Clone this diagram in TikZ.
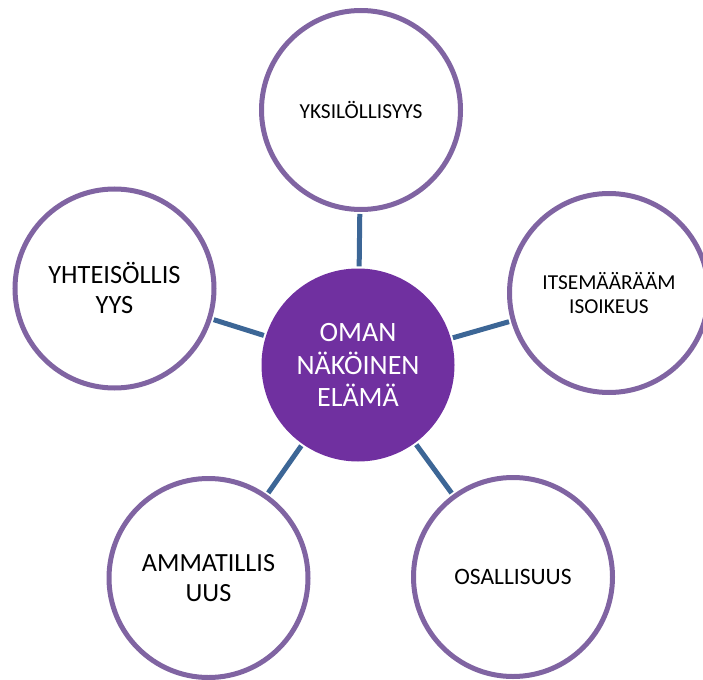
\documentclass[tikz,border=0pt]{standalone}
\usepackage{fontspec}
\setmainfont{Carlito}
\definecolor{ringpurple}{HTML}{8064A2}
\definecolor{hubpurple}{HTML}{7030A0}
\definecolor{linkblue}{HTML}{3C6696}
\begin{document}
\begin{tikzpicture}[x=1pt,y=-1pt,
  sat/.style={circle, draw=ringpurple, line width=5pt, fill=white, minimum size=199pt, inner sep=0pt, align=center, text=black},
  hubnode/.style={circle, fill=hubpurple, minimum size=193pt, inner sep=0pt, align=center, text=white},
  linkline/.style={draw=linkblue, line width=5pt, shorten <=2pt, shorten >=2pt}]
\useasboundingbox (0,0) rectangle (703,679);
\node[hubnode, font=\fontsize{28}{32.5}\selectfont] (c) at (358,365) {OMAN\\NÄKÖINEN\\ELÄMÄ};
\node[sat, font=\fontsize{21.4}{24.5}\selectfont] (top) at (361,110) {YKSILÖLLISYYS};
\node[sat, font=\fontsize{21.3}{24.5}\selectfont] (right) at (609,293) {ITSEMÄÄRÄÄM\\ISOIKEUS};
\node[sat, font=\fontsize{26.4}{30}\selectfont] (left) at (114.5,288.5) {YHTEISÖLLIS\\YYS};
\node[sat, font=\fontsize{26.2}{30}\selectfont] (bl) at (208.5,578) {AMMATILLIS\\UUS};
\node[sat, font=\fontsize{23.5}{27}\selectfont] (br) at (513,577) {OSALLISUUS};
\draw[linkline] (c) -- (top);
\draw[linkline] (c) -- (right);
\draw[linkline] (c) -- (left);
\draw[linkline] (c) -- (bl);
\draw[linkline] (c) -- (br);
\end{tikzpicture}
\end{document}
